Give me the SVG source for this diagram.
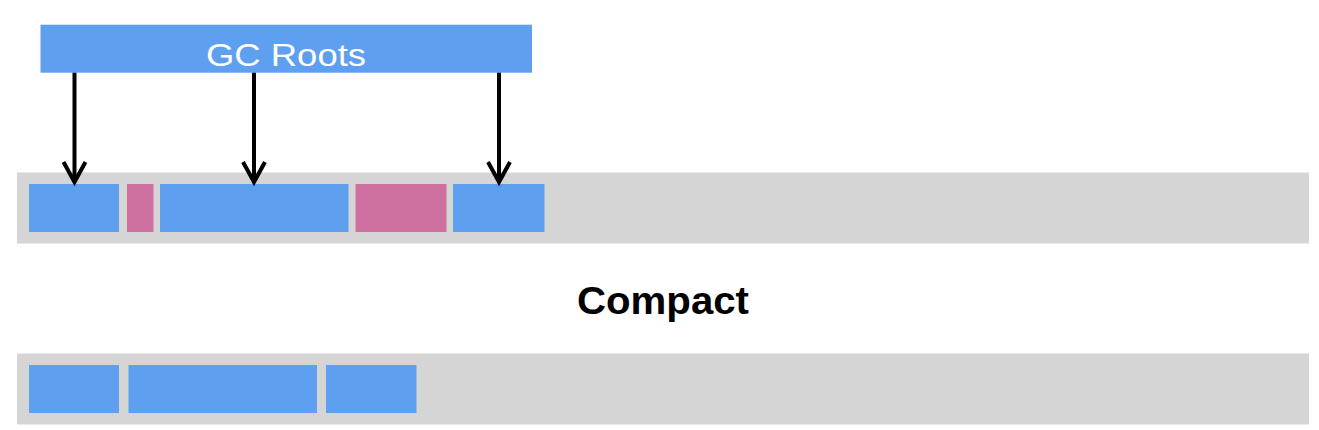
<svg xmlns="http://www.w3.org/2000/svg" width="1319" height="430" viewBox="0 0 1319 430">
<style>
.live{fill:#5f9ff0}
.dead{fill:#cd70a0}
.heap{fill:#d5d5d5}
.arr{stroke:#000;stroke-width:4;fill:none}
.head{stroke:#000;stroke-width:4;fill:none;stroke-linecap:butt}
</style>
<rect width="1319" height="430" fill="#fff"/>
<g id="roots">
<rect class="live" x="40.5" y="24.7" width="491.5" height="48"/>
<text x="286" y="65.5" font-family="'Liberation Sans', Arial, sans-serif" font-size="32" fill="#fff" text-anchor="middle" textLength="160" lengthAdjust="spacingAndGlyphs">GC Roots</text>
</g>
<g id="heap-before">
<rect class="heap" x="17" y="172.5" width="1292" height="71"/>
<rect id="obj1" class="live" x="29" y="184" width="90" height="48"/>
<rect id="obj2" class="dead" x="127" y="184" width="26.5" height="48"/>
<rect id="obj3" class="live" x="160" y="184" width="188.5" height="48"/>
<rect id="obj4" class="dead" x="355.5" y="184" width="91" height="48"/>
<rect id="obj5" class="live" x="453" y="184" width="91.5" height="48"/>
</g>
<g id="label">
<text x="663" y="314" font-family="'Liberation Sans', Arial, sans-serif" font-size="38" font-weight="bold" fill="#000" text-anchor="middle" textLength="172" lengthAdjust="spacingAndGlyphs">Compact</text>
</g>
<g id="heap-after">
<rect class="heap" x="17" y="353.5" width="1292" height="71"/>
<rect class="live" x="29" y="365" width="90" height="48"/>
<rect class="live" x="128.5" y="365" width="188.5" height="48"/>
<rect class="live" x="326" y="365" width="90.5" height="48"/>
</g>
<g id="connectors">
<path class="arr" d="M74.5 72.7V182"/>
<path class="head" d="M63.5 162L74.5 182L85.5 162"/>
<path class="arr" d="M254 72.7V182"/>
<path class="head" d="M243 162L254 182L265 162"/>
<path class="arr" d="M499 72.7V182"/>
<path class="head" d="M488 162L499 182L510 162"/>
</g>
</svg>
